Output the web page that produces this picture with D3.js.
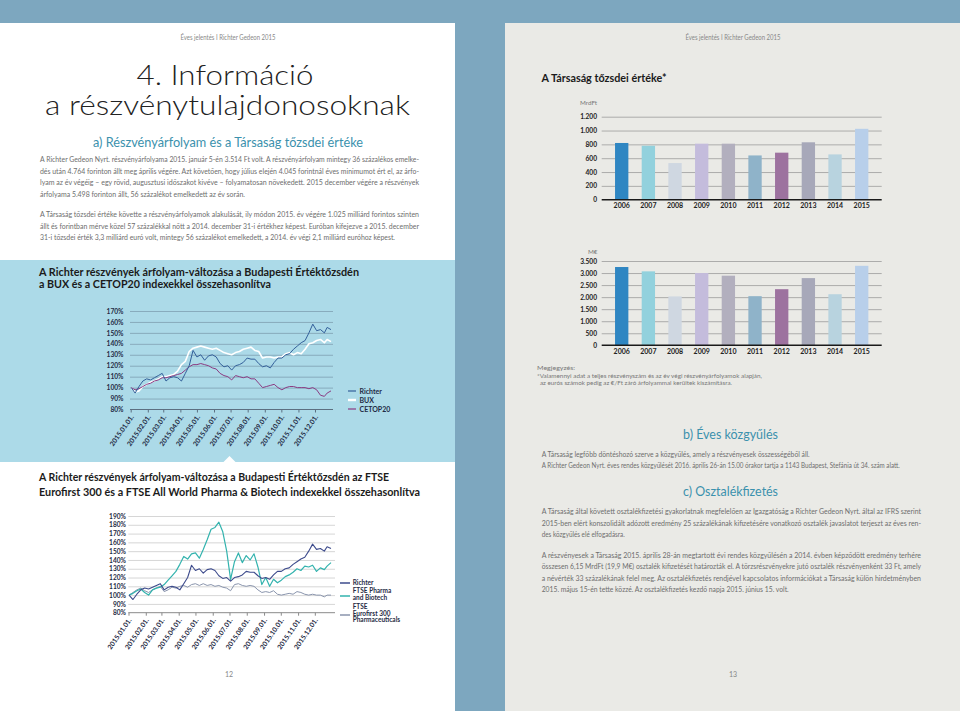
<!DOCTYPE html>
<html><head><meta charset="utf-8">
<script src="https://cdn.jsdelivr.net/npm/d3@7"></script>
<style>body{margin:0;background:#fff}svg{display:block}</style>
</head><body>
<svg id="c" width="960" height="711"></svg>
<script>
// ---------------- DATA ----------------
const weekDates = ["2015-01-02","2015-01-09","2015-01-16","2015-01-23","2015-01-30","2015-02-06","2015-02-13","2015-02-20","2015-02-27","2015-03-06","2015-03-13","2015-03-20","2015-03-27","2015-04-03","2015-04-10","2015-04-17","2015-04-24","2015-05-01","2015-05-08","2015-05-15","2015-05-22","2015-05-29","2015-06-05","2015-06-12","2015-06-19","2015-06-26","2015-07-03","2015-07-10","2015-07-17","2015-07-24","2015-07-31","2015-08-07","2015-08-14","2015-08-21","2015-08-28","2015-09-04","2015-09-11","2015-09-18","2015-09-25","2015-10-02","2015-10-09","2015-10-16","2015-10-23","2015-10-30","2015-11-06","2015-11-13","2015-11-20","2015-11-27","2015-12-04","2015-12-11","2015-12-18","2015-12-23","2015-12-30"];
const richter = [100,95,101,106,108, 107,109,111,113, 106,109,110,109, 106,113,120,134, 128,130,125,129,130, 128,122,119,120, 116,120,121,123,127, 126,126,122,119, 120,118,123,127, 127,130,131,135,138, 141,143,150,158, 152,153,150,155,153];
const bux = [100,96,97,101,103, 105,106,108,110, 110,111,112,115, 121,124,133,136, 137,138,137,136,135, 136,134,132,131, 130,132,133,135,136, 137,134,133,127, 128,128,127,128, 128,131,132,130,132, 131,135,140,141, 143,144,141,144,142];
const cetop20 = [100,98,99,101,103, 104,106,107,109, 109,110,111,112, 113,116,119,121, 121,122,121,120,118, 117,113,111,110, 107,111,110,109,110, 108,108,104,100, 101,102,103,100, 98,100,101,101,100, 100,100,99,100, 98,93,92,95,97];
const ftsePharma = [100,102,105,107,103, 100,106,108,109, 112,117,122,127, 135,144,141,147, 148,142,152,163,175, 177,183,172,150, 118,138,148,137,145, 140,147,132,112, 120,110,118,114, 117,121,123,126,130, 128,133,132,134, 127,131,129,133,137];
const eurofirst = [100,103,106,108,105, 103,106,108,110, 104,106,109,108, 110,111,109,112, 113,111,113,111,112, 110,111,109,108, 105,112,113,111,110, 111,110,106,103, 104,103,105,101, 100,101,102,101,104, 103,101,100,101, 100,100,98,100,100];
const monthLabels = ["2015.01.01.","2015.02.01.","2015.03.01.","2015.04.01.","2015.05.01.","2015.06.01.","2015.07.01.","2015.08.01.","2015.09.01.","2015.10.01.","2015.11.01.","2015.12.01."];
const pctTicks1 = [80,90,100,110,120,130,140,150,160,170];
const pctTicks2 = [80,90,100,110,120,130,140,150,160,170,180,190];

const years = ["2006","2007","2008","2009","2010","2011","2012","2013","2014","2015"];
const capMrdFt = [820,780,530,810,810,640,680,830,655,1025];
const capMEur = [3250,3070,2030,3000,2890,2040,2330,2790,2120,3300];
const hufTicks = [0,200,400,600,800,1000,1200];
const eurTicks = [0,500,1000,1500,2000,2500,3000,3500];
const barColors = ["#2f86c2","#92d1dd","#cfd7e1","#c4bcdc","#b2afbe","#8fb3c9","#9d729f","#a7a8b9","#b8d3df","#b8cfea"];

// texts
const para1 = ["A Richter Gedeon Nyrt. részvényárfolyama 2015. január 5-én 3.514 Ft volt. A részvényárfolyam mintegy 36 százalékos emelke-",
"dés után 4.764 forinton állt meg április végére. Azt követően, hogy július elején 4.045 forintnál éves minimumot ért el, az árfo-",
"lyam az év végéig – egy rövid, augusztusi időszakot kivéve – folyamatosan növekedett. 2015 december végére a részvények",
"árfolyama 5.498 forinton állt, 56 százalékot emelkedett az év során."];
const para2 = ["A Társaság tőzsdei értéke követte a részvényárfolyamok alakulását, ily módon 2015. év végére 1.025 milliárd forintos szinten",
"állt és forintban mérve közel 57 százalékkal nőtt a 2014. december 31-i értékhez képest. Euróban kifejezve a 2015. december",
"31-i tőzsdei érték 3,3 milliárd euró volt, mintegy 56 százalékot emelkedett, a 2014. év végi 2,1 milliárd euróhoz képest."];
const paraB = ["A Társaság legfőbb döntéshozó szerve a közgyűlés, amely a részvényesek összességéből áll.",
"A Richter Gedeon Nyrt. éves rendes közgyűlését 2016. április 26-án 15.00 órakor tartja a 1143 Budapest, Stefánia út 34. szám alatt."];
const paraC1 = ["A Társaság által követett osztalékfizetési gyakorlatnak megfelelően az Igazgatóság a Richter Gedeon Nyrt. által az IFRS szerint",
"2015-ben elért konszolidált adózott eredmény 25 százalékának kifizetésére vonatkozó osztalék javaslatot terjeszt az éves ren-",
"des közgyűlés elé elfogadásra."];
const paraC2 = ["A részvényesek a Társaság 2015. április 28-án megtartott évi rendes közgyűlésén a 2014. évben képződött eredmény terhére",
"összesen 6,15 MrdFt (19,9 M€) osztalék kifizetését határozták el. A törzsrészvényekre jutó osztalék részvényenként 33 Ft, amely",
"a névérték 33 százalékának felel meg. Az osztalékfizetés rendjével kapcsolatos információkat a Társaság külön hirdetményben",
"2015. május 15-én tette közzé. Az osztalékfizetés kezdő napja 2015. június 15. volt."];

// ---------------- DRAW ----------------
const svg = d3.select("#c");
const FONT = "Lato, 'Open Sans', 'DejaVu Sans', sans-serif";
const parse = d3.timeParse("%Y-%m-%d");
const dates = weekDates.map(parse);
const huFmt = d3.formatLocale({decimal:",", thousands:".", grouping:[3], currency:["",""]}).format(",");

function txt(x, y, s, o = {}) {
  const t = svg.append("text").attr("x", x).attr("y", y).text(s)
    .attr("font-family", o.family || FONT).attr("font-size", o.size || 7.2)
    .attr("font-weight", o.weight || 400).attr("fill", o.fill || "#6e6e6e")
    .attr("text-anchor", o.anchor || "start");
  if (o.width) t.attr("textLength", o.width).attr("lengthAdjust", o.adj || "spacingAndGlyphs");
  return t;
}
function para(lines, x, y0, lh, widths) {
  lines.forEach((l, i) => txt(x, y0 + i * lh, l, {width: widths[i]}));
}

// backgrounds
svg.append("rect").attr("width", 960).attr("height", 711).attr("fill", "#7da7bf");
svg.append("rect").attr("x", 0).attr("y", 23).attr("width", 455).attr("height", 688).attr("fill", "#ffffff");
svg.append("rect").attr("x", 505).attr("y", 23).attr("width", 455).attr("height", 688).attr("fill", "#eaeae6");
svg.append("rect").attr("x", 0).attr("y", 260).attr("width", 455).attr("height", 202).attr("fill", "#acdae8");
svg.append("path").attr("d", "M223,462.5 L229.5,456 L236,462.5 Z").attr("fill", "#ffffff");

// headers
txt(228, 40, "Éves jelentés I Richter Gedeon 2015", {anchor: "middle", size: 7, fill: "#888", width: 95});
txt(733, 40, "Éves jelentés I Richter Gedeon 2015", {anchor: "middle", size: 7, fill: "#888", width: 95});
txt(225, 85, "4. Információ", {anchor: "middle", size: 27, weight: 300, fill: "#222", width: 177});
txt(227.5, 115, "a részvénytulajdonosoknak", {anchor: "middle", size: 27, weight: 300, fill: "#222", width: 365});
txt(228, 146.5, "a) Részvényárfolyam és a Társaság tőzsdei értéke", {anchor: "middle", size: 12.5, fill: "#3b91ad", width: 270});
para(para1, 40, 162, 11.5, [379, 379, 379, 205]);
para(para2, 40, 217, 11.5, [379, 379, 355]);

// chart titles
txt(39, 276, "A Richter részvények árfolyam-változása a Budapesti Értéktőzsdén", {size: 10.5, weight: 700, fill: "#1b1b1b", width: 320});
txt(39, 288, "a BUX és a CETOP20 indexekkel összehasonlítva", {size: 10.5, weight: 700, fill: "#1b1b1b", width: 232});
txt(39, 481, "A Richter részvények árfolyam-változása a Budapesti Értéktőzsdén az FTSE", {size: 10.5, weight: 700, fill: "#1b1b1b", width: 350});
txt(39, 495.5, "Eurofirst 300 és a FTSE All World Pharma & Biotech indexekkel összehasonlítva", {size: 10.5, weight: 700, fill: "#1b1b1b", width: 381});

// ---- line charts ----
function lineChart(c) {
  const g = svg.append("g");
  const x = d3.scaleTime().domain([parse("2015-01-01"), parse("2015-12-30")]).range([c.x0, c.x1]);
  const y = d3.scaleLinear().domain([c.ticks[0], c.ticks[c.ticks.length - 1]]).range([c.yb, c.yt]);
  const grid = g.append("g").attr("transform", `translate(${c.gx1},0)`)
    .call(d3.axisLeft(y).tickValues(c.ticks.slice(1)).tickSize(c.gx1 - c.gx0).tickFormat(""));
  grid.select(".domain").remove();
  grid.selectAll("line").attr("stroke", c.grid).attr("stroke-width", 0.8);
  const yl = g.append("g").attr("transform", `translate(${c.lx},0)`)
    .call(d3.axisLeft(y).tickValues(c.ticks).tickSize(0).tickPadding(0).tickFormat(d => d + "%"));
  yl.select(".domain").remove();
  yl.selectAll("text").attr("font-family", FONT).attr("font-size", 6.6).attr("font-weight", 700).attr("fill", "#1f2b45");
  const months = d3.timeMonth.range(parse("2015-01-01"), parse("2015-12-31"));
  const xa = g.append("g").attr("transform", `translate(0,${y(c.ticks[0])})`)
    .call(d3.axisBottom(x).tickValues(months).tickSize(3).tickFormat((d, i) => monthLabels[i]));
  xa.select(".domain").attr("d", `M${c.gx0},0H${c.gx1}`).attr("stroke", c.axis).attr("stroke-width", 1);
  xa.selectAll("line").attr("stroke", c.axis);
  xa.selectAll("text").attr("x", 0).attr("y", 0).attr("dy", "0.35em")
    .attr("transform", "translate(1,6) rotate(-55)").attr("text-anchor", "end")
    .attr("font-family", FONT).attr("font-size", 6.8).attr("font-weight", 700).attr("fill", "#1f2b45");
  const line = d3.line().x((d, i) => x(dates[i])).y(d => y(d));
  c.series.forEach(s => {
    g.append("path").datum(s.values).attr("d", line).attr("fill", "none")
      .attr("stroke", s.color).attr("stroke-width", s.w).attr("stroke-linejoin", "round");
  });
  c.legend.forEach(l => {
    g.append("line").attr("x1", l.lx0).attr("x2", l.lx1).attr("y1", l.ly).attr("y2", l.ly)
      .attr("stroke", l.color).attr("stroke-width", l.w);
    l.lines.forEach((t, k) => {
      g.append("text").attr("x", l.tx).attr("y", l.ty + k * 6.5).text(t)
        .attr("font-family", FONT).attr("font-size", l.size).attr("font-weight", 700).attr("fill", "#1f2b45");
    });
  });
}

lineChart({
  x0: 130.7, x1: 331, yb: 409.5, yt: 311, gx0: 130, gx1: 333, lx: 123.5,
  ticks: pctTicks1, grid: "#7f9fb1", axis: "#5c6f80",
  series: [
    {values: bux, color: "#ffffff", w: 1.6},
    {values: cetop20, color: "#8b3b82", w: 1},
    {values: richter, color: "#33609a", w: 1}
  ],
  legend: [
    {lx0: 348, lx1: 356, ly: 391, color: "#33609a", w: 1.2, tx: 359.5, ty: 393.5, lines: ["Richter"], size: 7},
    {lx0: 348, lx1: 356, ly: 400, color: "#ffffff", w: 2.4, tx: 359.5, ty: 402.5, lines: ["BUX"], size: 7},
    {lx0: 348, lx1: 356, ly: 409, color: "#8b3b82", w: 1.2, tx: 359.5, ty: 411.5, lines: ["CETOP20"], size: 7}
  ]
});

lineChart({
  x0: 128.5, x1: 331, yb: 612.7, yt: 516, gx0: 128.3, gx1: 335, lx: 126,
  ticks: pctTicks2, grid: "#cbcbcb", axis: "#8a8a8a",
  series: [
    {values: eurofirst, color: "#8a95ad", w: 1},
    {values: ftsePharma, color: "#33b3ae", w: 1.2},
    {values: richter, color: "#3d4b8c", w: 1.1}
  ],
  legend: [
    {lx0: 340, lx1: 350, ly: 583, color: "#3d4b8c", w: 1.5, tx: 352.7, ty: 585.2, lines: ["Richter"], size: 6.5},
    {lx0: 340, lx1: 350, ly: 596, color: "#33b3ae", w: 1.5, tx: 352.7, ty: 593.3, lines: ["FTSE Pharma", "and Biotech"], size: 6.5},
    {lx0: 340, lx1: 350, ly: 615, color: "#8a95ad", w: 1.5, tx: 352.7, ty: 609, lines: ["FTSE", "Eurofirst 300", "Pharmaceuticals"], size: 6.5}
  ]
});

// ---- right page ----
txt(541.5, 82, "A Társaság tőzsdei értéke*", {size: 11, weight: 700, fill: "#1b1b1b", width: 125});

function barChart(c) {
  const g = svg.append("g");
  const x = d3.scaleBand().domain(years).range([601.7, 881.7]).padding(0.5);
  const y = d3.scaleLinear().domain([0, c.ticks[c.ticks.length - 1]]).range([c.yb, c.yt]);
  const grid = g.append("g").attr("transform", `translate(881.7,0)`)
    .call(d3.axisLeft(y).tickValues(c.ticks.slice(1)).tickSize(280).tickFormat(""));
  grid.select(".domain").remove();
  grid.selectAll("line").attr("stroke", "#9c9c9c").attr("stroke-width", 0.8);
  g.selectAll("rect.bar").data(c.values).join("rect")
    .attr("x", (d, i) => x(years[i])).attr("width", x.bandwidth())
    .attr("y", d => y(d)).attr("height", d => y(0) - y(d))
    .attr("fill", (d, i) => barColors[i]);
  const yl = g.append("g").attr("transform", `translate(597,0)`)
    .call(d3.axisLeft(y).tickValues(c.ticks).tickSize(0).tickPadding(0).tickFormat(huFmt));
  yl.select(".domain").remove();
  yl.selectAll("text").attr("font-family", FONT).attr("font-size", 6.6).attr("font-weight", 700).attr("fill", "#222");
  const xa = g.append("g").attr("transform", `translate(0,${y(0)})`)
    .call(d3.axisBottom(x).tickSize(0).tickPadding(8.5));
  xa.select(".domain").attr("d", "M601.7,0H881.7").attr("stroke", "#1a1a1a").attr("stroke-width", 1.4);
  xa.selectAll("text").attr("dy", "0").attr("font-family", FONT).attr("font-size", 7).attr("font-weight", 700).attr("fill", "#222");
  txt(c.ux, c.uy, c.unit, {size: 6.3, fill: "#777"});
}
barChart({values: capMrdFt, ticks: hufTicks, yb: 199.7, yt: 116.7, unit: "MrdFt", ux: 580, uy: 105});
barChart({values: capMEur, ticks: eurTicks, yb: 345.3, yt: 261, unit: "M€", ux: 588, uy: 254});

txt(537, 370, "Megjegyzés:", {size: 6.3, fill: "#777", width: 38});
txt(537, 377.5, "*Valamennyi adat a teljes részvényszám és az év végi részvényárfolyamok alapján,", {size: 6.3, fill: "#777", width: 225});
txt(540, 384.5, "az eurós számok pedig az €/Ft záró árfolyammal kerültek kiszámításra.", {size: 6.3, fill: "#777", width: 192});

txt(730.5, 439, "b) Éves közgyűlés", {anchor: "middle", size: 12.5, fill: "#3b91ad", width: 95});
para(paraB, 541.7, 457, 10.5, [268, 358]);
txt(730.5, 496, "c) Osztalékfizetés", {anchor: "middle", size: 12.5, fill: "#3b91ad", width: 95});
para(paraC1, 541.7, 514, 11.5, [379.3, 379.3, 83]);
para(paraC2, 541.7, 557.5, 11.5, [379.3, 379.3, 379.3, 247]);

txt(229, 677, "12", {anchor: "middle", size: 7, fill: "#888"});
txt(733, 677, "13", {anchor: "middle", size: 7, fill: "#888"});
</script>
</body></html>
